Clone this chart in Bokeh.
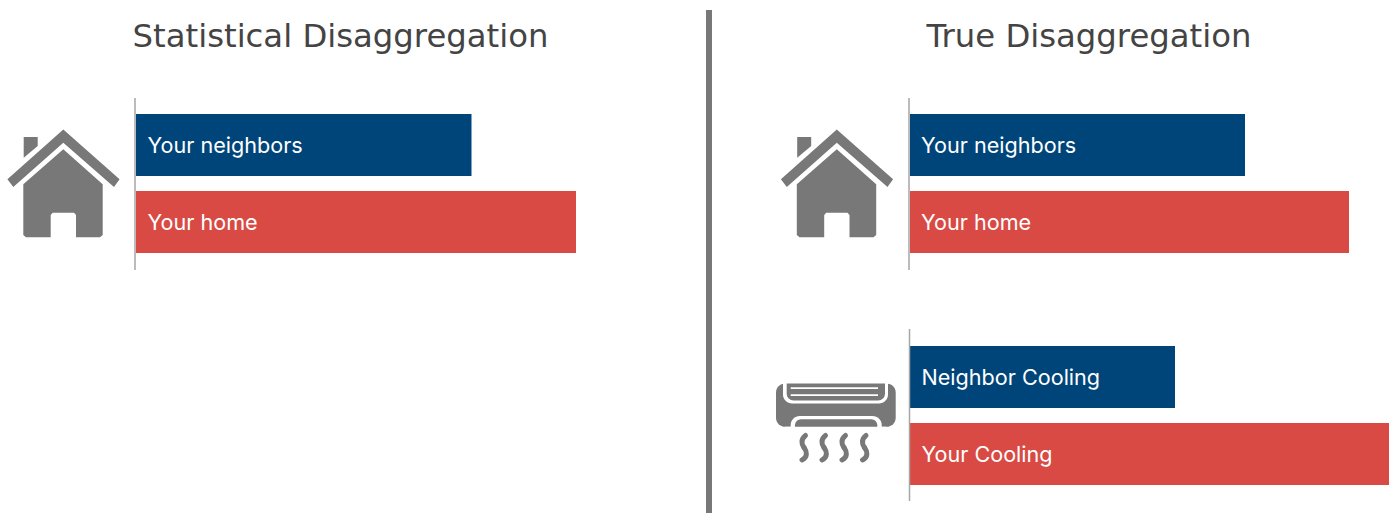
from bokeh.plotting import figure
from bokeh.embed import file_html
from bokeh.resources import INLINE
from bokeh.core.properties import value
from bokeh.models import Range1d
import math

NAVY = "#00457a"
RED = "#d84a43"
GREY = "#787878"
AXISC = "#a6a6a6"
TXT = "#444444"
FONT = "Inter"
TITLE_FONT = "DejaVu Sans"

titles = ["Statistical Disaggregation", "True Disaggregation"]
labels_home = ["Your neighbors", "Your home"]
labels_cool = ["Neighbor Cooling", "Your Cooling"]
home_stat = [335.5, 440]
home_true = [335, 439]
cool_true = [265, 479]

p = figure(width=1393, height=513, output_backend="svg", toolbar_location=None,
           x_range=Range1d(0.5, 1393.5), y_range=Range1d(513.5, 0.5),
           min_border=0, outline_line_color=None, background_fill_color="white")
p.xaxis.visible = False
p.yaxis.visible = False
p.grid.visible = False
p.min_border_left = p.min_border_right = p.min_border_top = p.min_border_bottom = 0

def bars(base, tops, vals, colors, names, tx):
    h = 62
    for t, v, c, n in zip(tops, vals, colors, names):
        p.quad(left=base, right=base + v, top=t, bottom=t + h, fill_color=c, line_color=None)
        p.text(x=[tx], y=[t + 30.5], text=[n], text_color="white", text_font=value(FONT),
               text_font_size="21.6px", text_baseline="middle", text_align="left")

bars(136, [114, 191], home_stat, [NAVY, RED], labels_home, 147.5)
bars(910, [114, 191], home_true, [NAVY, RED], labels_home, 921)
bars(910, [346, 423], cool_true, [NAVY, RED], labels_cool, 921.5)

for x, y0, y1 in [(135, 98, 270), (909, 98, 270), (909.5, 329, 501)]:
    p.line([x, x], [y0, y1], line_color=AXISC, line_width=1.5)
p.quad(left=706, right=712, top=10, bottom=514, fill_color=GREY, line_color=None)

for t, x in zip(titles, [340.5, 1089]):
    p.text(x=[x], y=[36], text=[t], text_color=TXT, text_font=value(TITLE_FONT),
           text_font_size="32.3px", text_baseline="middle", text_align="center")

def house(dx):
    roof_x = [63.3, 119.6, 114, 63.3, 13.3, 7.4]
    roof_y = [129.5, 179.3, 186.9, 142.7, 186.9, 179.3]
    chim_x = [23.7, 37.7, 37.7, 23.7]
    chim_y = [137, 137, 146, 157.7]
    body_x = [63.3, 102.7, 102.7, 100, 76, 76, 74, 52.7, 50.7, 50.7, 26, 23.3, 23.3]
    body_y = [149.3, 184.3, 235, 237.3, 237.3, 215, 212.7, 212.7, 215, 237.3, 237.3, 235, 184.3]
    for xs, ys in [(roof_x, roof_y), (chim_x, chim_y), (body_x, body_y)]:
        p.patch([v + dx for v in xs], ys, fill_color=GREY, line_color=None)

house(0)
house(773.5)

def rrect(x0, y0, x1, y1, r_top, r_bot, n=8):
    xs, ys = [], []
    for cx, cy, r, a0 in [(x1 - r_top, y0 + r_top, r_top, -90), (x1 - r_bot, y1 - r_bot, r_bot, 0),
                          (x0 + r_bot, y1 - r_bot, r_bot, 90), (x0 + r_top, y0 + r_top, r_top, 180)]:
        for i in range(n + 1):
            a = math.radians(a0 + 90 * i / n)
            xs.append(cx + r * math.cos(a)); ys.append(cy + r * math.sin(a))
    return xs, ys

# air conditioner icon
xs, ys = rrect(776, 383.5, 895.7, 426.8, 9, 9)
p.patch(xs, ys, fill_color=GREY, line_color=None)
xs, ys = rrect(783, 375, 888, 403.5, 0, 9)
p.patch(xs, ys, fill_color="white", line_color=None)
xs, ys = rrect(786.7, 375, 885, 400.5, 0, 7)
p.patch(xs, ys, fill_color=GREY, line_color=None)
p.quad(left=776, right=896, top=370, bottom=383.5, fill_color="white", line_color=None)
for y0, y1 in [(387.3, 389), (394.3, 396)]:
    p.quad(left=790.7, right=878, top=y0, bottom=y1, fill_color="white", line_color=None)
xs, ys = rrect(790.7, 416, 881.7, 434, 9, 0)
p.patch(xs, ys, fill_color="white", line_color=None)
xs, ys = rrect(795, 419.3, 877.3, 434, 6, 0)
p.patch(xs, ys, fill_color=GREY, line_color=None)
p.quad(left=785, right=886, top=426.8, bottom=436, fill_color="white", line_color=None)
for x in [804, 824, 844, 864.5]:
    p.bezier(x0=[x + 1.5], y0=[435.5], x1=[x], y1=[447.5], cx0=[x - 3], cy0=[439], cx1=[x - 3], cy1=[443.5],
             line_color=GREY, line_width=5, line_cap="round")
    p.bezier(x0=[x], y0=[447.5], x1=[x - 2], y1=[460], cx0=[x + 3], cy0=[451.5], cx1=[x + 4], cy1=[457],
             line_color=GREY, line_width=5, line_cap="round")

open("out.html", "w").write(file_html(p, INLINE))
